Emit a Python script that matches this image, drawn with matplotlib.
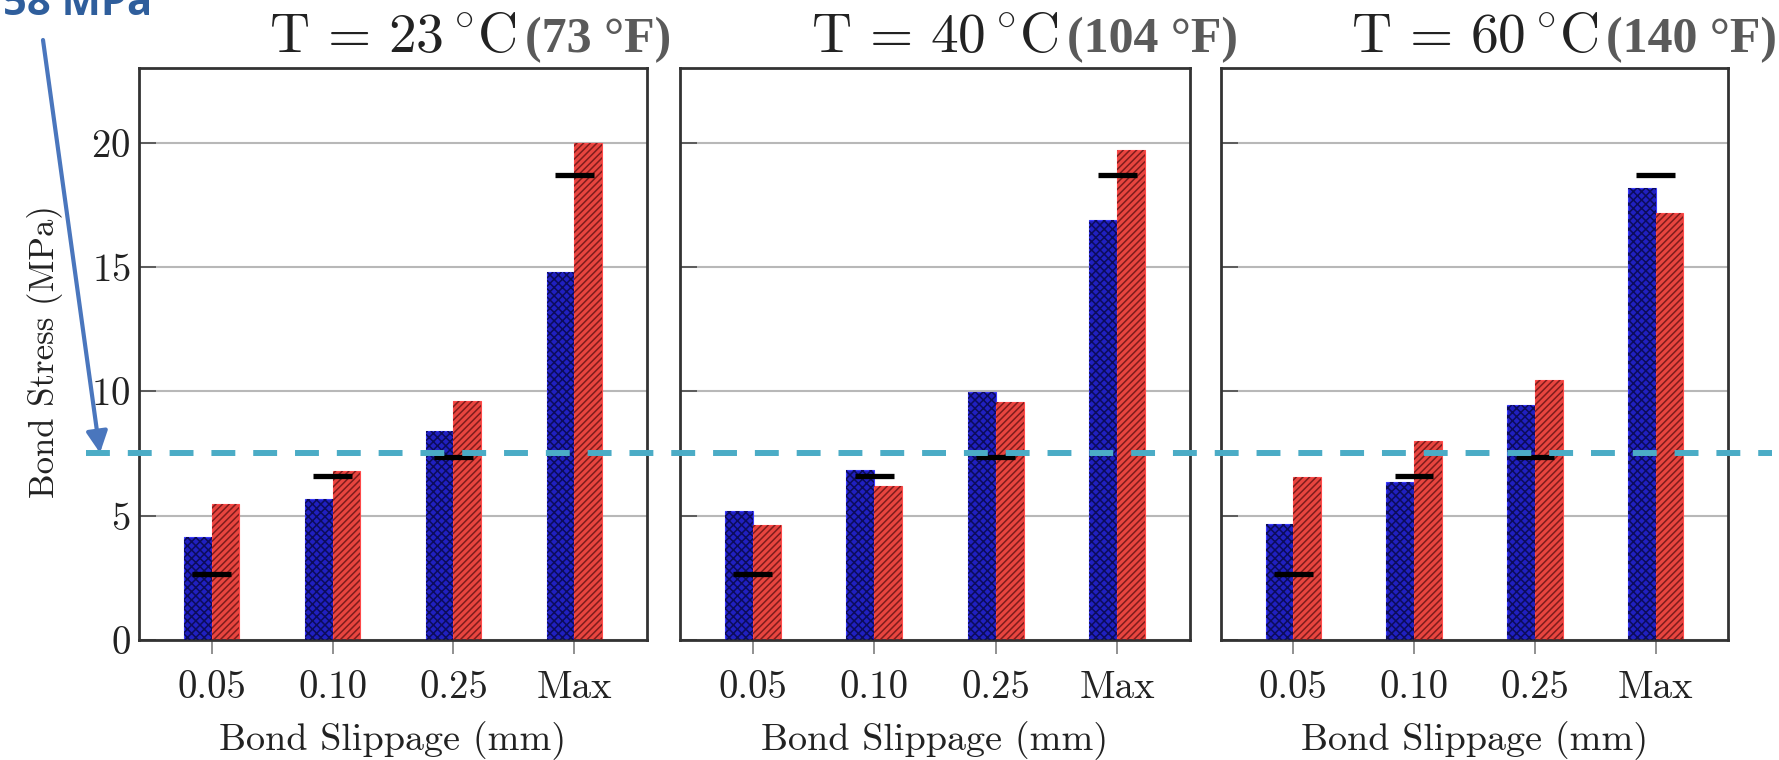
import numpy as np
import matplotlib
matplotlib.use('Agg')
import matplotlib.pyplot as plt
from matplotlib.lines import Line2D
from matplotlib.patches import FancyArrowPatch
from matplotlib.transforms import blended_transform_factory

# values
slips = ['0.05', '0.10', '0.25', 'Max']
temps_c = [23, 40, 60]
temps_f = [73, 104, 140]
blue_23 = [4.14, 5.68, 8.39, 14.8]
red_23 = [5.45, 6.81, 9.62, 20.0]
blue_40 = [5.18, 6.84, 9.96, 16.9]
red_40 = [4.63, 6.21, 9.56, 19.7]
blue_60 = [4.68, 6.35, 9.45, 18.17]
red_60 = [6.55, 7.99, 10.45, 17.15]
code_ref = [2.67, 6.59, 7.35, 18.7]
threshold = 7.52
threshold_label = '58 MPa'

blue_sets = [blue_23, blue_40, blue_60]
red_sets = [red_23, red_40, red_60]

plt.rcParams['font.family'] = 'cmr10'
plt.rcParams['mathtext.fontset'] = 'cm'
plt.rcParams['axes.formatter.use_mathtext'] = True
plt.rcParams['hatch.linewidth'] = 1.1

W, H = 1779, 760
fig = plt.figure(figsize=(W / 100, H / 100), dpi=100)

# panel edges in pixels (left, right)
panels_px = [(139, 647), (680, 1190), (1221, 1728)]
bottom_px, top_px = 640, 68

x = np.arange(len(slips))
bw = 0.23
text_col = '#222222'
title_pad = 11.5

axes = []
titles = []
for i, (l, r) in enumerate(panels_px):
    ax = fig.add_axes([l / W, 1 - bottom_px / H, (r - l) / W, (bottom_px - top_px) / H])
    axes.append(ax)

    # filled bars, then hatch on top
    ax.bar(x - bw / 2, blue_sets[i], bw, color='#2020c0', edgecolor='#3a3aff', linewidth=0.8, zorder=2)
    ax.bar(x - bw / 2, blue_sets[i], bw, fill=False, hatch='xxxx', edgecolor='#0c0c5a', linewidth=0, zorder=3)
    ax.bar(x + bw / 2, red_sets[i], bw, color='#e8453f', edgecolor='#ff4a4a', linewidth=0.8, zorder=2)
    ax.bar(x + bw / 2, red_sets[i], bw, fill=False, hatch='/////', edgecolor='#7e1c1c', linewidth=0, zorder=3)

    ax.hlines(code_ref, x - 0.16, x + 0.16, color='black', linewidth=3.8, zorder=4)

    ax.set_xlim(-0.6, 3.6)
    ax.set_ylim(0, 23)
    ax.set_yticks([0, 5, 10, 15, 20])
    ax.yaxis.grid(True, color='#b8b8b8', linewidth=1.5, zorder=0)
    ax.set_axisbelow(True)
    ax.set_xticks(x)
    ax.set_xticklabels(slips)

    ax.tick_params(axis='x', direction='out', length=10, width=1.3, color='#888888',
                   labelsize=28, labelcolor=text_col, pad=12)
    ax.tick_params(axis='y', direction='in', length=12, width=1.3, color='#555555',
                   labelsize=28, labelcolor=text_col, pad=6, labelleft=(i == 0))
    for sp in ax.spines.values():
        sp.set_color('#333333')
        sp.set_linewidth(2)

    ax.set_xlabel('Bond Slippage (mm)', fontsize=27.5, color=text_col, labelpad=10.5)

    titles.append(ax.set_title(r'$\mathrm{T}\,=\,%d\,^{\circ}\mathrm{C}$' % temps_c[i],
                               fontsize=40, color=text_col, pad=title_pad))

# fahrenheit part goes right after each title, on the same baseline
fig.canvas.draw()
for i, ax in enumerate(axes):
    bb = titles[i].get_window_extent()
    x_end = ax.transAxes.inverted().transform((bb.x1, 0))[0]
    ax.annotate('(%d °F)' % temps_f[i], xy=(x_end, 1), xycoords='axes fraction',
                xytext=(6, title_pad), textcoords='offset points', ha='left', va='baseline',
                fontsize=36, fontweight='bold', family=['Liberation Serif'], color='#5a5a5a')

fig.text(45 / W, 1 - 352 / H, 'Bond Stress (MPa)', rotation=90, ha='center', va='center',
         fontsize=25, color=text_col)

# threshold line across all panels
trans = blended_transform_factory(fig.transFigure, axes[0].transData)
fig.add_artist(Line2D([86 / W, 1772 / W], [threshold, threshold], transform=trans,
                      color='#4bacc6', linewidth=4.3, linestyle=(0, (4, 3))))

# annotation arrow and label
y_thr = axes[0].transData.transform((0, threshold))[1] / H
fig.add_artist(FancyArrowPatch((43 / W, 1 - 40 / H), (100 / W, y_thr), arrowstyle='-|>',
                               mutation_scale=32, color='#4a76bd', linewidth=3,
                               shrinkA=0, shrinkB=0))
fig.text(3 / W, 1 - 15 / H, threshold_label, ha='left', va='baseline', fontsize=30,
         fontweight='bold', family=['Open Sans'], color='#2f5e9c')

fig.savefig('out.png', dpi=100)
